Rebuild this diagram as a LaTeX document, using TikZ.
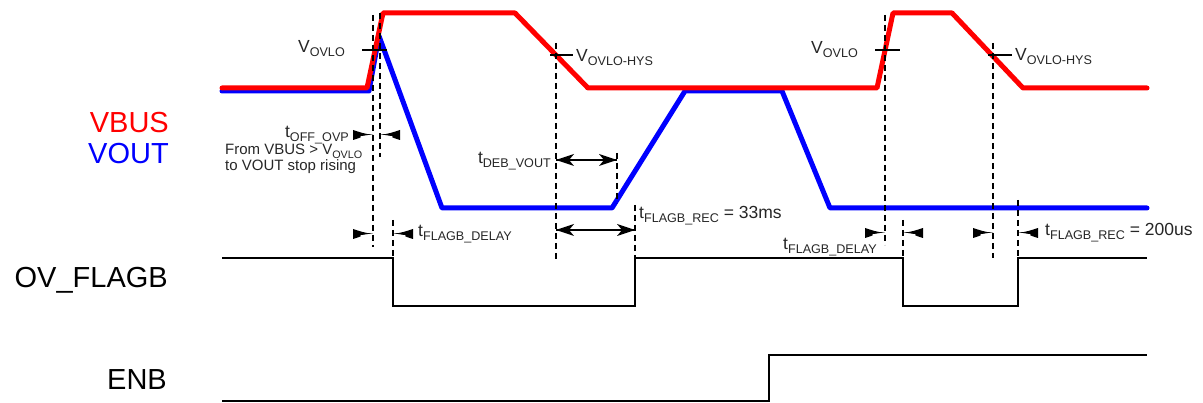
\documentclass[tikz,border=0pt]{standalone}
\usepackage{fontspec}
\usepackage{graphicx}
\setmainfont{Liberation Sans}
\newcommand\sbs[1]{\raisebox{-0.22em}{\scalebox{0.72}{#1}}}
% half-arrow heads: wide flat back tapering into a short shaft, tip at the given coordinate
\newcommand\wedgeright[1]{\fill (#1) ++(0,-0.8) -- ++(-5,0) .. controls ++(-5,-1) .. ++(-15,-4.2) -- ++(0,10) .. controls ++(10,-3.2) .. ++(5,-4.2) -- ++(5,0) -- cycle;}
\newcommand\wedgeleft[1]{\fill (#1) ++(0,-0.8) -- ++(5,0) .. controls ++(5,-1) .. ++(15,-4.2) -- ++(0,10) .. controls ++(-10,-3.2) .. ++(-5,-4.2) -- ++(-5,0) -- cycle;}
% dimension heads with notched back
\newcommand\headright[1]{\fill (#1) -- ++(-18,-6) -- ++(5,6) -- ++(-5,6) -- cycle;}
\newcommand\headleft[1]{\fill (#1) -- ++(18,-6) -- ++(-5,6) -- ++(5,6) -- cycle;}
\begin{document}
\begin{tikzpicture}[x=1pt,y=-1pt,
  sig/.style={line width=5pt,line cap=round,line join=round},
  vbus/.style={sig,draw={rgb,255:red,255;green,0;blue,0}},
  vout/.style={sig,draw={rgb,255:red,0;green,0;blue,255}},
  logic/.style={line width=1.6pt,black},
  guide/.style={line width=1.4pt,dash pattern=on 6pt off 4pt},
  tickln/.style={line width=1.4pt},
  shaft/.style={line width=1.3pt},
  big/.style={font=\fontsize{29}{30}\selectfont,anchor=base east,inner sep=0pt},
  small/.style={font=\fontsize{17.5}{19}\selectfont,inner sep=0pt,text={black!85}},
  note/.style={font=\fontsize{15}{16}\selectfont,inner sep=0pt,anchor=base west,text={black!85}}
]
\useasboundingbox (0,0) rectangle (1203,403);

% waveforms
\draw[vout] (222,91) -- (369,91) -- (379,36) -- (442,208) -- (612,208) -- (685,91) -- (782,91) -- (830,208) -- (1147,208);
\draw[vbus] (222,88) -- (367,88) -- (383,13) -- (515,13) -- (588,88) -- (877,88) -- (893,13) -- (952,13) -- (1023,88) -- (1147,88);
\draw[logic] (222,258) -- (393,258) -- (393,306) -- (635,306) -- (635,258) -- (903,258) -- (903,306) -- (1018,306) -- (1018,258) -- (1147,258);
\draw[logic,line width=2pt] (222,401.5) -- (769,401.5) -- (769,355) -- (1147,355);

% guide coordinates
\coordinate (d1t) at (373,15);  \coordinate (d1b) at (373,247);
\coordinate (d2t) at (380,13);  \coordinate (d2b) at (380,157);
\coordinate (d3t) at (393,220); \coordinate (d3b) at (393,257);
\coordinate (d4t) at (556,43);  \coordinate (d4b) at (556,260);
\coordinate (d5t) at (617,153); \coordinate (d5b) at (617,203);
\coordinate (d6t) at (635,205); \coordinate (d6b) at (635,257);
\coordinate (d7t) at (885,15);  \coordinate (d7b) at (885,245);
\coordinate (d8t) at (993,43);  \coordinate (d8b) at (993,258);
\coordinate (d9t) at (903,220); \coordinate (d9b) at (903,257);
\coordinate (d10t) at (1018,200); \coordinate (d10b) at (1018,257);
\foreach \n in {1,...,10} \draw[guide] (d\n t) -- (d\n b);

% threshold ticks
\coordinate (k1a) at (362,50); \coordinate (k1b) at (387,50);
\coordinate (k2a) at (875,50); \coordinate (k2b) at (900,50);
\coordinate (k3a) at (550,55); \coordinate (k3b) at (573,55);
\coordinate (k4a) at (988,55); \coordinate (k4b) at (1012,55);
\foreach \n in {1,...,4} \draw[tickln] (k\n a) -- (k\n b);

% half arrows pointing right (tip on a guide)
\coordinate (a1e) at (373,135);
\coordinate (a3e) at (373,234);
\coordinate (a5e) at (885,233);
\coordinate (a7e) at (993,233);
\foreach \n in {1,3,5,7} {\wedgeright{a\n e}}
% half arrows pointing left
\coordinate (a2e) at (380,135);
\coordinate (a4e) at (393,234);
\coordinate (a6e) at (903,233);
\coordinate (a8e) at (1018,233);
\foreach \n in {2,4,6,8} {\wedgeleft{a\n e}}
% double arrows
\coordinate (b1s) at (556,160); \coordinate (b1e) at (617,160);
\coordinate (b2s) at (556,230); \coordinate (b2e) at (635,230);
\foreach \n in {1,2} {\draw[shaft] (b\n s) -- (b\n e); \headleft{b\n s} \headright{b\n e}}

% signal names
\node[big,text={rgb,255:red,255;green,0;blue,0}] (vbuslbl) at (169,133) {VBUS};
\node[big,text={rgb,255:red,0;green,0;blue,255}] (voutlbl) at (169,164) {VOUT};
\node[big] (flaglbl) at (168,288) {OV\_FLAGB};
\node[big] (enblbl) at (167,390) {ENB};

% small labels
\node[small,anchor=base east] (vovlo1) at (345,53) {V\sbs{OVLO}};
\node[small,anchor=base east] (vovlo2) at (858,54) {V\sbs{OVLO}};
\node[small,anchor=base west] (vhys1) at (576,62) {V\sbs{OVLO-HYS}};
\node[small,anchor=base west] (vhys2) at (1015,61) {V\sbs{OVLO-HYS}};
\node[small,anchor=base east] (toff) at (349,138) {t\sbs{OFF\_OVP}};
\node[note] (from1) at (225,155) {From VBUS > V\sbs{OVLO}};
\node[note] (from2) at (225,171) {to VOUT stop rising};
\node[small,anchor=base east] (tdeb) at (551,164) {t\sbs{DEB\_VOUT}};
\node[small,anchor=base west] (trec1) at (639,219) {t\sbs{FLAGB\_REC} = 33ms};
\node[small,anchor=base west] (tdel1) at (418,237) {t\sbs{FLAGB\_DELAY}};
\node[small,anchor=base west] (tdel2) at (783,250) {t\sbs{FLAGB\_DELAY}};
\node[small,anchor=base west] (trec2) at (1045,236) {t\sbs{FLAGB\_REC} = 200us};
\end{tikzpicture}
\end{document}
